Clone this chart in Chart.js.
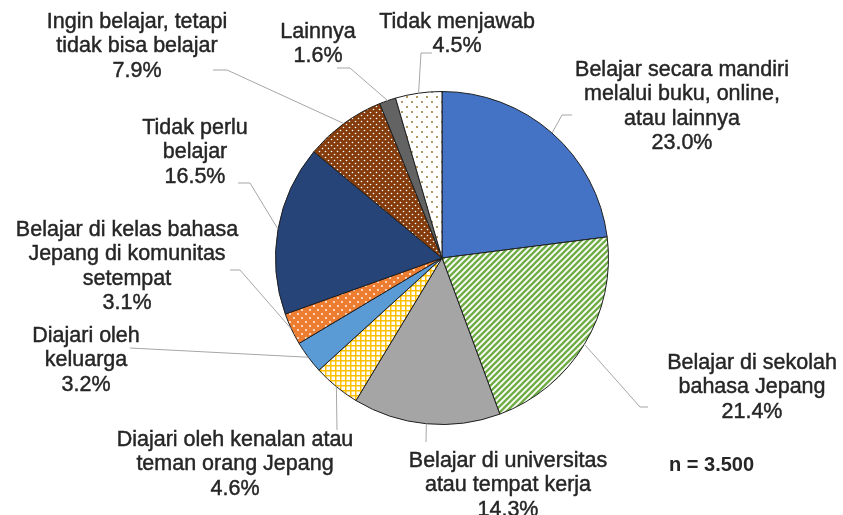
<!DOCTYPE html>
<html>
<head>
<meta charset="utf-8">
<script src="https://cdn.jsdelivr.net/npm/chart.js@4/dist/chart.umd.min.js"></script>
<style>
  body { margin: 0; background: #fff; }
  canvas { display: block; }
</style>
</head>
<body>
<canvas id="myChart" width="843" height="515"></canvas>
<script>
/* data */
var categories = [
    'Belajar secara mandiri\nmelalui buku, online,\natau lainnya',
    'Belajar di sekolah\nbahasa Jepang',
    'Belajar di universitas\natau tempat kerja',
    'Diajari oleh kenalan atau\nteman orang Jepang',
    'Diajari oleh\nkeluarga',
    'Belajar di kelas bahasa\nJepang di komunitas\nsetempat',
    'Tidak perlu\nbelajar',
    'Ingin belajar, tetapi\ntidak bisa belajar',
    'Lainnya',
    'Tidak menjawab'
];
var values = [23.0, 21.4, 14.3, 4.6, 3.2, 3.1, 16.5, 7.9, 1.6, 4.5];
var sampleNote = 'n = 3.500';

/* label placement: text centre x, first line y, leader start + elbow */
var labelLayout = [
    { x: 682, y: 70,  line: [[572, 115], [562, 115]] },
    { x: 752, y: 363, line: [[648, 407], [640, 407]] },
    { x: 508, y: 461, line: [[426, 442]] },
    { x: 235, y: 440, line: [[337, 430]] },
    { x: 86,  y: 336, line: [[130, 348]] },
    { x: 127, y: 230, line: [[230, 270], [240, 270]] },
    { x: 195, y: 128, line: [[238, 183], [250, 183]] },
    { x: 137, y: 22,  line: [[213, 70], [227, 70]] },
    { x: 318, y: 32,  line: [[337, 68], [350, 68]] },
    { x: 457, y: 22,  line: [[432, 53], [421, 53]] }
];

/*填充图案*/
function makePattern(w, h, draw) {
    var c = document.createElement('canvas');
    c.width = w; c.height = h;
    var g = c.getContext('2d');
    draw(g, w, h);
    return g.createPattern(c, 'repeat');
}
function dots(bg, fg, r, pts) {
    return function(g, w, h) {
        g.fillStyle = bg; g.fillRect(0, 0, w, h);
        g.fillStyle = fg;
        pts.forEach(function(p) {
            g.beginPath(); g.arc(p[0], p[1], r, 0, Math.PI * 2); g.fill();
        });
    };
}
var greenStripe = makePattern(6, 6, function(g, w, h) {
    g.fillStyle = '#fff'; g.fillRect(0, 0, w, h);
    g.strokeStyle = '#70AD47'; g.lineWidth = 2.4;
    [[0, 6, 6, 0], [-3, 3, 3, -3], [3, 9, 9, 3]].forEach(function(s) {
        g.beginPath(); g.moveTo(s[0], s[1]); g.lineTo(s[2], s[3]); g.stroke();
    });
});
var goldGrid = makePattern(5, 5, function(g, w, h) {
    g.fillStyle = '#fff'; g.fillRect(0, 0, w, h);
    g.fillStyle = '#FFC000';
    g.fillRect(0, 0, w, 1.5);
    g.fillRect(0, 0, 1.5, h);
});
var orangeDots = makePattern(8, 8, dots('#ED7D31', '#fff', 0.9, [[2, 2], [6, 6]]));
var brownDots = makePattern(6, 6, dots('#843C0C', '#fff', 0.8, [[1.5, 1.5], [4.5, 4.5]]));
var whiteDots = makePattern(10, 10, dots('#fff', '#8E6B1F', 0.9, [[2, 2], [7, 7]]));

var sliceColors = [
    '#4472C4', greenStripe, '#A5A5A5', goldGrid, '#5B9BD5',
    orangeDots, '#264478', brownDots, '#636363', whiteDots
];

var labelPlugin = {
    id: 'pieLabels',
    afterDraw: function(chart) {
        var ctx = chart.ctx;
        var arcs = chart.getDatasetMeta(0).data;
        ctx.save();
        // leader lines
        ctx.strokeStyle = '#A6A6A6';
        ctx.lineWidth = 1;
        arcs.forEach(function(arc, i) {
            var mid = (arc.startAngle + arc.endAngle) / 2;
            var ex = arc.x + Math.cos(mid) * arc.outerRadius;
            var ey = arc.y + Math.sin(mid) * arc.outerRadius;
            var pts = labelLayout[i].line;
            ctx.beginPath();
            ctx.moveTo(pts[0][0], pts[0][1]);
            for (var k = 1; k < pts.length; k++) ctx.lineTo(pts[k][0], pts[k][1]);
            ctx.lineTo(ex, ey);
            ctx.stroke();
        });
        // texts
        ctx.fillStyle = '#262626';
        ctx.strokeStyle = '#262626';
        ctx.lineWidth = 0.45;
        ctx.font = '21.5px "Liberation Sans", Arial, sans-serif';
        ctx.textAlign = 'center';
        ctx.textBaseline = 'middle';
        categories.forEach(function(name, i) {
            var lines = name.split('\n');
            lines.push(values[i].toFixed(1) + '%');
            lines.forEach(function(t, k) {
                var ty = labelLayout[i].y + k * 24.5;
                ctx.fillText(t, labelLayout[i].x, ty);
                ctx.strokeText(t, labelLayout[i].x, ty);
            });
        });
        ctx.font = 'bold 20px "Liberation Sans", Arial, sans-serif';
        ctx.textAlign = 'left';
        ctx.fillText(sampleNote, 669, 465);
        ctx.restore();
    }
};

var ctx = document.getElementById('myChart').getContext('2d');
var myChart = new Chart(ctx, {
    type: 'pie',
    data: {
        labels: categories,
        datasets: [{
            data: values,
            backgroundColor: sliceColors,
            borderColor: '#1f1f1f',
            borderWidth: 1
        }]
    },
    options: {
        responsive: false,
        animation: false,
        layout: {
            padding: { left: 275, right: 234, top: 91, bottom: 90 }
        },
        plugins: {
            legend: { display: false },
            tooltip: { enabled: false }
        }
    },
    plugins: [labelPlugin]
});
</script>
</body>
</html>
